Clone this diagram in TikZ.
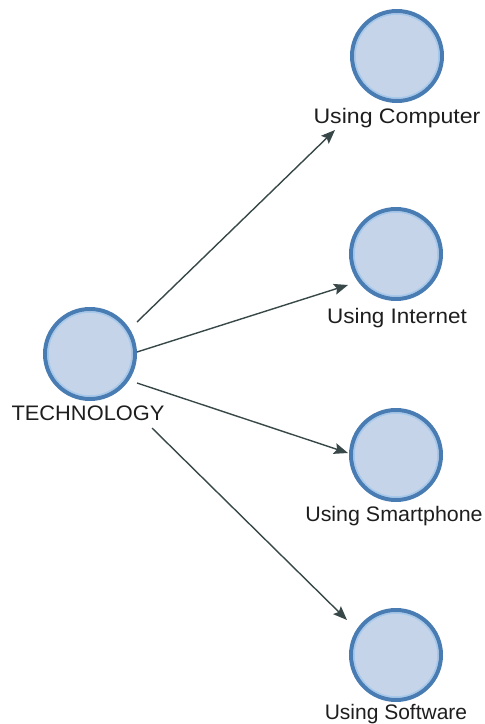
\documentclass[tikz,border=0pt]{standalone}
\usepackage{fontspec}
\setmainfont{Liberation Sans}
\usetikzlibrary{calc,arrows.meta}
\definecolor{ring}{RGB}{72,124,178}
\definecolor{fillc}{RGB}{198,212,234}
\definecolor{innerc}{RGB}{165,200,235}
\definecolor{edgec}{RGB}{56,72,72}
\definecolor{txt}{RGB}{30,30,30}
\begin{document}
\begin{tikzpicture}[x=1pt,y=-1pt,
  vert/.style={circle,draw=ring,fill=fillc,line width=4pt,minimum size=90pt,inner sep=0pt,
    path picture={\draw[innerc,line width=1.5pt] (path picture bounding box.center) circle (42pt);}},
  lbl/.style={anchor=base,text=txt,font=\fontsize{21}{24}\selectfont,inner sep=0pt},
  conn/.style={draw=edgec,line width=1.4pt,-{Stealth[length=14pt,width=11pt,inset=2.5pt]}}]
\path[use as bounding box] (0,0) rectangle (485,724);
\node[vert] (tech) at (90,354) {};
\node[vert] (comp) at (397,56) {};
\node[vert] (inet) at (396,254) {};
\node[vert] (smart) at (396,455) {};
\node[vert] (soft) at (396,655) {};
\node[lbl] (techl) at (88,420) {\scalebox{1.04}[1]{TECHNOLOGY}};
\node[lbl] (compl) at (397,123) {\scalebox{1.1}[1]{Using Computer}};
\node[lbl] (inetl) at (397,323) {\scalebox{1.07}[1]{Using Internet}};
\node[lbl] (smartl) at (394,521) {\scalebox{1.02}[1]{Using Smartphone}};
\node[lbl] (softl) at (396,719) {Using Software};
\coordinate (s1) at ($(tech)+(47,-32)$);
\coordinate (s2) at ($(tech)+(47,-2)$);
\coordinate (s3) at ($(tech)+(47,29)$);
\coordinate (s4) at ($(tech)+(62,74)$);
\coordinate (e1) at ($(comp)+(-62,74)$);
\coordinate (e2) at ($(inet)+(-48,31)$);
\coordinate (e3) at ($(smart)+(-48,-2)$);
\coordinate (e4) at ($(soft)+(-49,-35)$);
\draw[conn] (s1) -- (e1);
\draw[conn] (s2) -- (e2);
\draw[conn] (s3) -- (e3);
\draw[conn] (s4) -- (e4);
\end{tikzpicture}
\end{document}
